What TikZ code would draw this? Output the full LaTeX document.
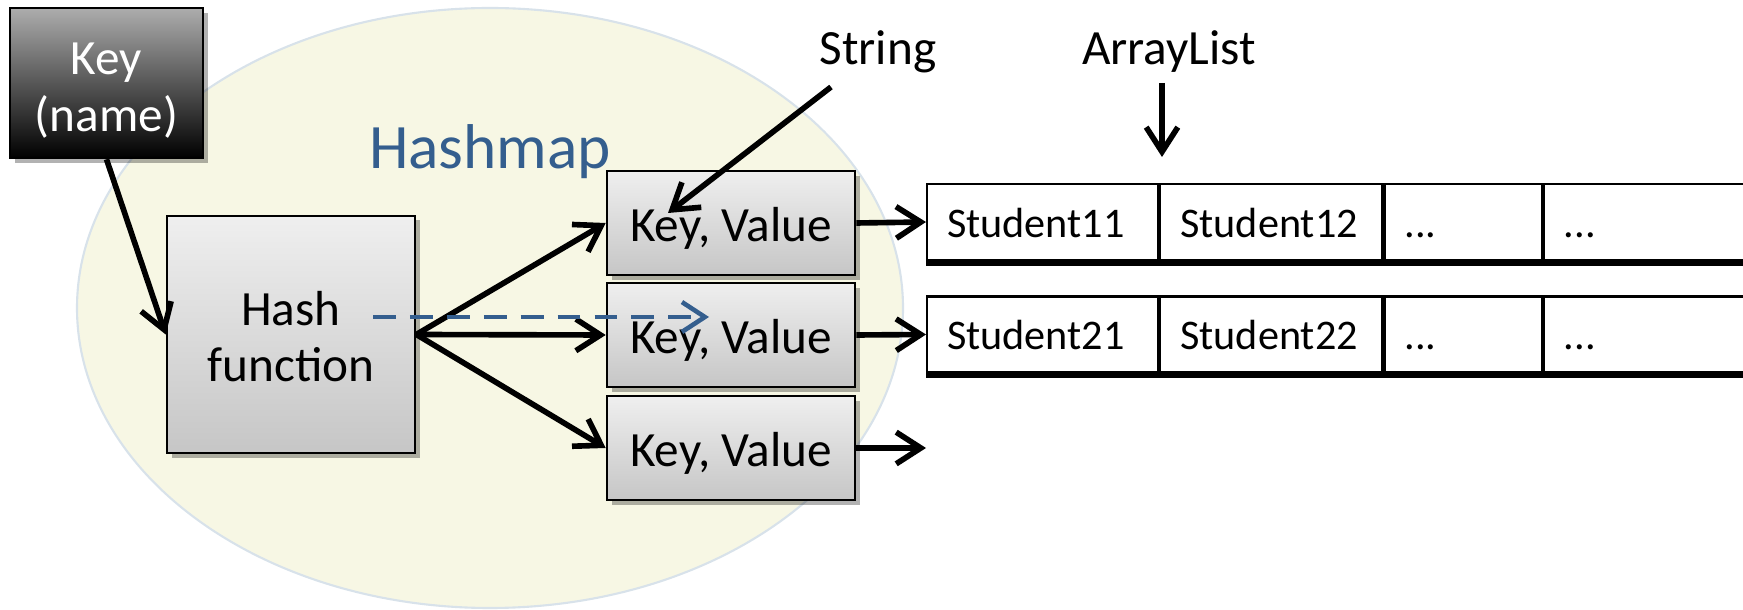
\documentclass[tikz,border=0pt]{standalone}
\usepackage{fontspec}
\setmainfont{Carlito}
\usetikzlibrary{arrows.meta,shadows}
\definecolor{cream}{HTML}{F7F7E4}
\definecolor{ellline}{HTML}{D8E2EA}
\definecolor{hmblue}{HTML}{345E8E}
\definecolor{boxtop}{HTML}{EFEFEF}
\definecolor{boxbot}{HTML}{C6C6C6}
\definecolor{keytop}{HTML}{ADADAD}
\begin{document}
\begin{tikzpicture}[x=0.01cm,y=-0.01cm,
  arr/.style={line width=1.6pt,-{Straight Barb[length=7pt,width=9pt]}},
  dasharr/.style={line width=1.3pt,color=hmblue,dash pattern=on 6.5pt off 4pt,-{Straight Barb[length=6.5pt,width=8.5pt]}},
  shad/.style={drop shadow={shadow xshift=1.3pt,shadow yshift=-1.3pt,opacity=0.3,fill=black}},
  graybox/.style={draw=black,line width=0.7pt,top color=boxtop,bottom color=boxbot,shad,
    font=\fontsize{14}{16}\selectfont,align=center,inner sep=0pt},
  keybox/.style={draw=black,line width=0.7pt,top color=keytop,bottom color=black,shad,text=white,
    font=\fontsize{14}{16.2}\selectfont,align=center,inner sep=0pt,minimum width=1.93cm,minimum height=1.5cm},
  kvsize/.style={minimum width=2.48cm,minimum height=1.04cm,text height=0.374cm,text depth=0pt},
  lbl/.style={font=\fontsize{14}{16}\selectfont,inner sep=0pt},
  cell/.style={draw=black,line width=0.6pt,fill=white,minimum height=0.76cm,inner xsep=0.2cm,
    text height=0.30cm,text depth=0pt,
    align=left,anchor=west,font=\fontsize{12}{14}\selectfont}
]
\useasboundingbox (0,0) rectangle (1743,610);
% hashmap ellipse
\fill[cream] (490,308) ellipse [x radius=413, y radius=300];
\draw[ellline,line width=0.6pt] (490,308) ellipse [x radius=413, y radius=300];

% labels
\node[lbl,anchor=base,text=hmblue,font=\fontsize{18}{22}\selectfont] (hm) at (490,169) {Hashmap};
\node[lbl,anchor=base] (str) at (878,65) {String};
\node[lbl,anchor=base] (al) at (1169,65) {ArrayList};

% boxes
\node[keybox] (key) at (106.5,83) {\rule{0pt}{0.52cm}Key\\(name)\rule[-0.12cm]{0pt}{0.12cm}};
\node[graybox,minimum width=2.48cm,minimum height=2.37cm] (hash) at (291,334.5) {\rule{0pt}{0.39cm}Hash\\function};
\node[graybox,kvsize] (kv1) at (731,223) {Key, Value};
\node[graybox,kvsize] (kv2) at (731,335) {Key, Value};
\node[graybox,kvsize] (kv3) at (731,448) {Key, Value};

% array lists
\node[cell,text width=1.91cm] (r1c1) at (926,222) {Student11};
\node[cell,text width=1.82cm] (r1c2) at (r1c1.east) {Student12};
\node[cell,text width=1.17cm] (r1c3) at (r1c2.east) {...};
\node[cell,text width=1.62cm] (r1c4) at (r1c3.east) {...};
\node[cell,text width=1.91cm] (r2c1) at (926,334.5) {Student21};
\node[cell,text width=1.82cm] (r2c2) at (r2c1.east) {Student22};
\node[cell,text width=1.17cm] (r2c3) at (r2c2.east) {...};
\node[cell,text width=1.62cm] (r2c4) at (r2c3.east) {...};
\draw[line width=1.5pt] ([yshift=-0.6pt]r1c1.south west) -- ([yshift=-0.6pt]r1c4.south east);
\draw[line width=1.5pt] ([yshift=-0.6pt]r2c1.south west) -- ([yshift=-0.6pt]r2c4.south east);

% connectors
\draw[arr] (key.south) -- (hash.west);
\draw[arr] (hash.east) -- (kv1.west);
\draw[arr] (hash.east) -- (kv2.west);
\draw[arr] (hash.east) -- (kv3.west);
\draw[arr] (kv1.east) -- (r1c1.west);
\draw[arr] (kv2.east) -- (r2c1.west);
\coordinate (end3) at (926,448);
\draw[arr] (kv3.east) -- (end3);
\coordinate (strfrom) at (831,87);
\coordinate (strto) at (668,213);
\draw[arr] (strfrom) -- (strto);
\coordinate (alfrom) at (1162,83);
\coordinate (alto) at (1162,157);
\draw[arr] (alfrom) -- (alto);
\coordinate (d1) at (373,317);
\coordinate (d2) at (709,317);
\draw[dasharr] (d1) -- (d2);
\end{tikzpicture}
\end{document}
